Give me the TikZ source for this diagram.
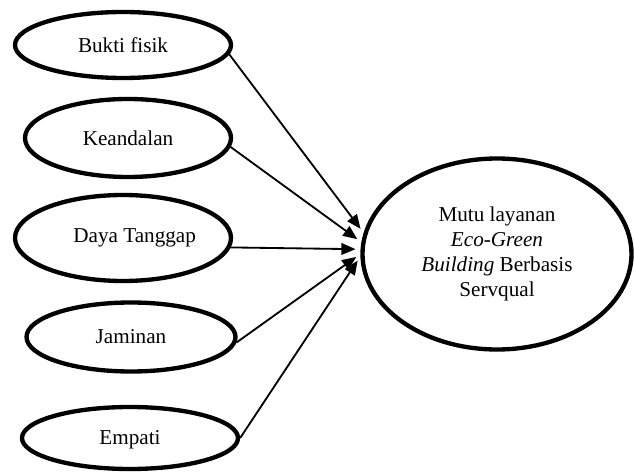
\documentclass[tikz,border=0pt]{standalone}
\usepackage{fontspec}
\setmainfont{Liberation Serif}
\usepackage{tikz}
\usetikzlibrary{arrows.meta,shapes.geometric}
\tikzset{
  varbox/.style={ellipse,draw=black,line width=2.6pt,fill=white,
    inner sep=0pt,align=center,font=\fontsize{12.7}{15}\selectfont},
  arr/.style={-{Triangle[length=8.5pt,width=7pt]},line width=1.1pt,
    shorten >=3pt},
}

\begin{document}
\begin{tikzpicture}[x=0.6pt,y=-0.6pt]
  \useasboundingbox (0,0) rectangle (634,473);

  % Dimensi servqual (kiri)
  \node[varbox,minimum width=129.6pt,minimum height=39.6pt] (bukti)
    at (123,45) {Bukti fisik};
  \node[varbox,minimum width=123.6pt,minimum height=46.8pt] (andal)
    at (128,138) {Keandalan};
  \node[varbox,minimum width=129.6pt,minimum height=51.6pt] (tanggap)
    at (123,238) {\hspace*{14pt}Daya Tanggap};
  \node[varbox,minimum width=125.4pt,minimum height=41.4pt] (jamin)
    at (131,337) {Jaminan};
  \node[varbox,minimum width=129.6pt,minimum height=37.2pt] (empati)
    at (130,438) {\raisebox{-10pt}{Empati}};

  % Variabel terikat (kanan)
  \node[varbox,minimum width=161.4pt,minimum height=114.6pt] (mutu)
    at (497,254)
    {Mutu layanan\\ \textit{Eco-Green}\\ \textit{Building} Berbasis\\ Servqual};

  % Panah pengaruh
  \draw[arr] (bukti.-5) -- (mutu.171);
  \draw[arr] (andal.-5) -- (mutu.175);
  \draw[arr] (tanggap.-5) -- (mutu.178.5);
  \draw[arr] (jamin.-3) -- (mutu.180);
  \draw[arr] (empati.east) -- (mutu.181);
\end{tikzpicture}
\end{document}
